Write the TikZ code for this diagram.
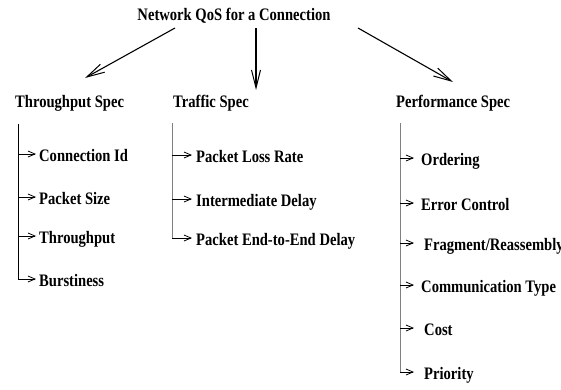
\documentclass[tikz,border=0pt]{standalone}
\usepackage{fontspec}
\usepackage{graphicx}
\setmainfont{Liberation Serif}
\usetikzlibrary{arrows.meta}
\newcommand\tall[1]{\scalebox{1}[1.2]{#1}}
\tikzset{
  lbl/.style={font=\fontsize{14.6}{16}\selectfont\bfseries, inner sep=0pt, anchor=base west},
  big/.style={line width=1.1pt, -{Straight Barb[length=18pt,width=9pt,line width=1pt]}},
  leaf/.style={line width=0.8pt, -{Straight Barb[length=7pt,width=6pt,line width=0.8pt]}},
  trunk/.style={line width=0.9pt},
}
\begin{document}
\begin{tikzpicture}[x=1pt,y=-1pt]
\useasboundingbox (0,0) rectangle (561,389);
\clip (0,0) rectangle (561,389);

% root and the three groups
\node[lbl, anchor=base] (root) at (234,20) {\tall{Network QoS for a Connection}};
\node[lbl] (tp) at (15,107) {\tall{Throughput Spec}};
\node[lbl] (tr) at (173,107) {\tall{Traffic Spec}};
\node[lbl] (pf) at (396,107) {\tall{Performance Spec}};

\coordinate (s1) at (175,28);
\coordinate (s2) at (256,28);
\coordinate (s3) at (358,28);
\coordinate (e1) at (85,78);
\coordinate (e2) at (256,90);
\coordinate (e3) at (453,82);
\draw[big] (s1) -- (e1);
\draw[big] (s2) -- (e2);
\draw[big] (s3) -- (e3);

% Throughput Spec branch
\coordinate (tpt) at (18,124);
\coordinate (tpb) at (18,279);
\draw[trunk] (tpt) -- (tpb);
\foreach \y/\t/\n in {154/Connection Id/t1, 197/Packet Size/t2, 236/Throughput/t3, 279/Burstiness/t4}{
  \coordinate (c\n) at (18,\y);
  \node[lbl] (\n) at (39,\y+7.5) {\tall{\t}};
  \draw[leaf, shorten >=3pt] (c\n) -- (\n.west |- c\n);
}

% Traffic Spec branch
\coordinate (trt) at (172,123);
\coordinate (trb) at (172,238);
\draw[trunk, gray] (trt) -- (trb);
\foreach \y/\t/\n in {155/Packet Loss Rate/q1, 199/Intermediate Delay/q2, 238/Packet End-to-End Delay/q3}{
  \coordinate (c\n) at (172,\y);
  \node[lbl] (\n) at (196,\y+7.5) {\tall{\t}};
  \draw[leaf, shorten >=4pt] (c\n) -- (\n.west |- c\n);
}

% Performance Spec branch
\coordinate (pft) at (400,123);
\coordinate (pfb) at (400,372);
\draw[trunk, gray] (pft) -- (pfb);
\foreach \y/\x/\s/\t/\n in {158/421/7/Ordering/p1, 203/421/7/Error Control/p2, 243/424/10/Fragment\slash Reassembly/p3, 285/421/7/Communication Type/p4, 328/424/10/Cost/p5, 372/424/10/Priority/p6}{
  \coordinate (c\n) at (400,\y);
  \node[lbl] (\n) at (\x,\y+7.5) {\tall{\t}};
  \draw[leaf, shorten >=\s pt] (c\n) -- (\n.west |- c\n);
}
\end{tikzpicture}
\end{document}
